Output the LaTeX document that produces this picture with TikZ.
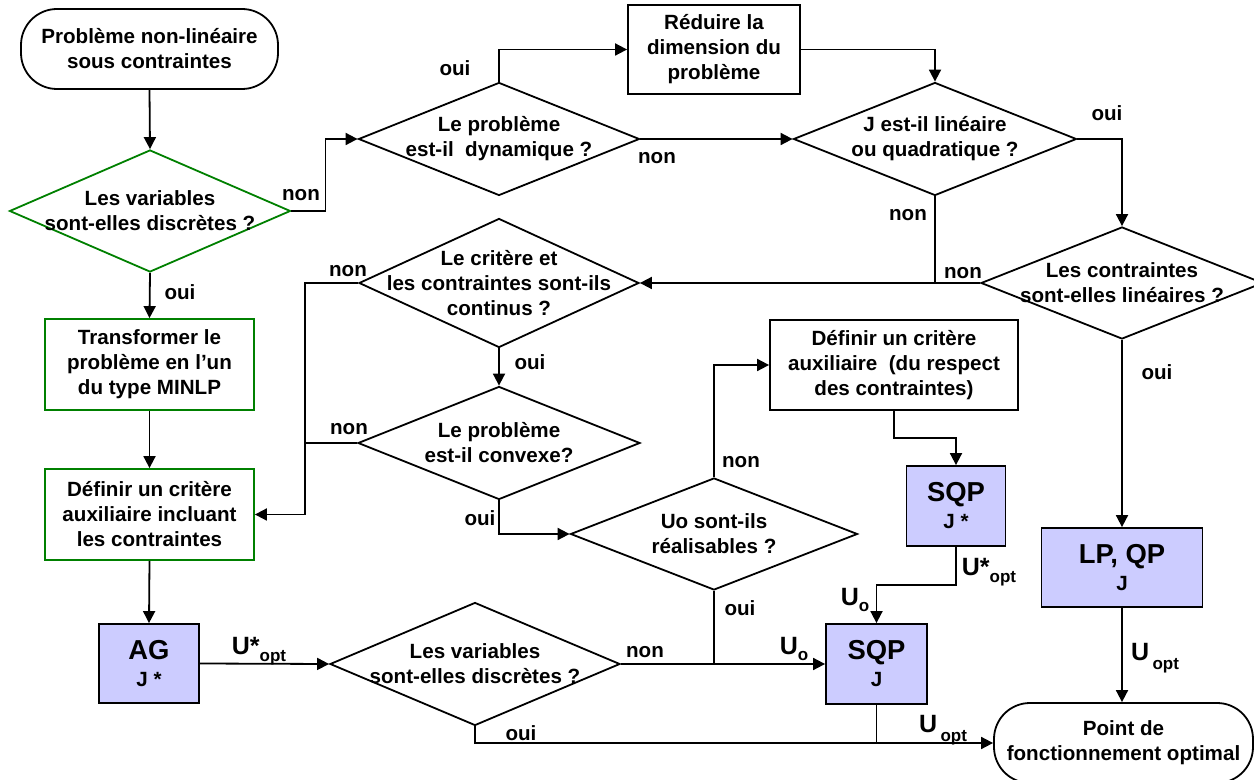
\documentclass[tikz,border=0pt]{standalone}
\usepackage{fontspec}
\setmainfont{Liberation Sans}
\usetikzlibrary{shapes.geometric,arrows.meta}
\definecolor{grn}{RGB}{0,128,0}
\definecolor{lav}{RGB}{204,204,255}
\newcommand{\nf}{\fontsize{10.3}{12.5}\selectfont\bfseries}
\newcommand{\bigf}{\fontsize{13.7}{16}\selectfont\bfseries}
\newcommand{\bigU}{\fontsize{12.5}{14}\selectfont}
\newcommand{\smallf}{\fontsize{8.5}{10}\selectfont}
\newcommand{\myUstar}{{\bigU U*}\raisebox{-0.6ex}{\smallf opt}}
\newcommand{\myUopt}{{\bigU U}\,\raisebox{-0.8ex}{\smallf opt}}
\newcommand{\myUo}{{\bigU U}\raisebox{-0.6ex}{\smallf o}}
\begin{document}
\begin{tikzpicture}[x=0.5pt,y=-0.5pt,line width=0.9pt,
  arr/.style={-{Triangle[length=6pt,width=6pt]}},
  every node/.style={font=\nf},
  box/.style={draw,rectangle,align=center,inner sep=0pt},
  bsz/.style 2 args={minimum width=#1*0.5pt,minimum height=#2*0.5pt},
  dia/.style={draw,diamond,inner sep=0pt},
  txt/.style={align=center,inner sep=0pt},
  lbl/.style={inner sep=0pt},
  gbox/.style={box,draw=grn},
  algo/.style={box,fill=lav},
  term/.style={box,rounded corners=18pt}]
\useasboundingbox (0,0) rectangle (1254,780);
\clip (0,0) rectangle (1254,780);

% nodes
\node[term,bsz={257}{80}] (start) at (149.5,49) {Problème non-linéaire\\sous contraintes};
\node[dia,draw=grn,bsz={281}{122}] (d1) at (150,211) {};
\node[txt] (d1t) at (d1) {Les variables\\sont-elles discrètes ?};
\node[gbox,bsz={209}{91}] (box1) at (149.5,364.5) {Transformer le\\problème en l’un\\du type MINLP};
\node[gbox,bsz={209}{91}] (box2) at (149.5,514.5) {Définir un critère\\auxiliaire incluant\\les contraintes};
\node[algo,bsz={100}{79}] (ag) at (149,663.5) {{\bigf AG}\\[1pt]J *};

\node[dia,bsz={281}{113}] (d2) at (499,139) {};
\node[txt] (d2t) at (d2) {Le problème\\est-il~ dynamique ?};
\node[box,bsz={172}{89}] (reduce) at (714,49.5) {Réduire la\\dimension du\\problème};
\node[dia,bsz={283}{113}] (d3) at (935,139) {};
\node[txt] (d3t) at (d3) {J est-il linéaire\\ou quadratique ?};
\node[dia,bsz={280}{129}] (d4) at (499,283) {};
\node[txt] (d4t) at (d4) {Le critère et\\les contraintes sont-ils\\continus ?};
\node[dia,bsz={282}{112}] (d8) at (1122,283) {};
\node[txt] (d8t) at (d8) {Les contraintes\\sont-elles linéaires ?};
\node[dia,bsz={282}{113}] (d5) at (499,443) {};
\node[txt] (d5t) at (d5) {Le problème\\est-il convexe?};
\node[box,bsz={248}{90}] (aux2) at (894,365) {Définir un critère\\auxiliaire~ (du respect\\des contraintes)};
\node[dia,bsz={287}{112}] (d7) at (714,534) {};
\node[txt] (d7t) at (d7) {Uo sont-ils\\réalisables ?};
\node[dia,bsz={290}{123}] (d6) at (475,664) {};
\node[txt] (d6t) at (d6) {Les variables\\sont-elles discrètes ?};
\node[algo,bsz={99}{80}] (sqpstar) at (956,506) {{\bigf SQP}\\[1pt]J *};
\node[algo,bsz={101}{80}] (sqp) at (876.5,664) {{\bigf SQP}\\[1pt]J};
\node[algo,bsz={161}{79}] (lpqp) at (1122,567.5) {{\bigf LP, QP}\\[1pt]J};
\node[term,bsz={259}{80}] (final) at (1123.5,743) {Point de\\fonctionnement optimal};

% connectors
\draw[arr] (start.south) -- (d1.north);
\draw[arr] (d1.east) -- ++(34,0) |- (d2.west);
\draw[arr] (d1.south) -- (box1.north);
\draw[arr] (box1.south) -- (box2.north);
\draw[arr] (box2.south) -- (ag.north);
\draw[arr] (ag.east) -- (d6.west);
\draw[arr] (d2.north) |- (reduce.west);
\draw[arr] (d2.east) -- (d3.west);
\draw[arr] (reduce.east) -| (d3.north);
\draw[arr] (d3.east) -| (d8.north);
\draw (d3.south) -- (d3.south |- d8.west);
\draw[arr] (d8.west) -- (d4.east);
\draw[arr] (d4.west) -- ++(-53,0) |- (box2.east);
\draw[arr] (d4.south) -- (d5.north);
\draw (d5.west) -- ++(-52,0);
\draw[arr] (d5.south) |- (d7.west);
\draw[arr] (d7.north) |- (aux2.west);
\draw (d7.south) -- (d7.south |- sqp.west);
\draw[arr] (d6.east) -- (sqp.west);
\draw[arr] (aux2.south) -- ++(0,27) -| (sqpstar.north);
\draw[arr] (sqpstar.south) -- ++(0,38) -| (sqp.north);
\draw[arr] (d6.south) |- (final.west);
\draw (sqp.south) -- (sqp.south |- final.west);
\draw[arr] (d8.south) -- (lpqp.north);
\draw[arr] (lpqp.south) -- (lpqp.south |- final.north);

% connector labels
\node[lbl] (l1) at (301,195) {non};
\node[lbl] (l2) at (180,292) {oui};
\node[lbl] (l3) at (455,68) {oui};
\node[lbl] (l4) at (657,158) {non};
\node[lbl] (l5) at (1107,113) {oui};
\node[lbl] (l6) at (908,215) {non};
\node[lbl] (l7) at (963,273) {non};
\node[lbl] (l8) at (348,271) {non};
\node[lbl] (l9) at (530,362) {oui};
\node[lbl] (l10) at (349,429) {non};
\node[lbl] (l11) at (480,518) {oui};
\node[lbl] (l12) at (741,462) {non};
\node[lbl] (l13) at (740,608) {oui};
\node[lbl] (l14) at (645,652) {non};
\node[lbl] (l15) at (521,733) {oui};
\node[lbl] (l16) at (1157,372) {oui};
\node[lbl] (u1) at (259,651) {\myUstar};
\node[lbl] (u2) at (989,572) {\myUstar};
\node[lbl] (u3) at (855,600) {\myUo};
\node[lbl] (u4) at (794,649) {\myUo};
\node[lbl] (u5) at (943,730) {\myUopt};
\node[lbl] (u6) at (1155,658) {\myUopt};
\end{tikzpicture}
\end{document}
